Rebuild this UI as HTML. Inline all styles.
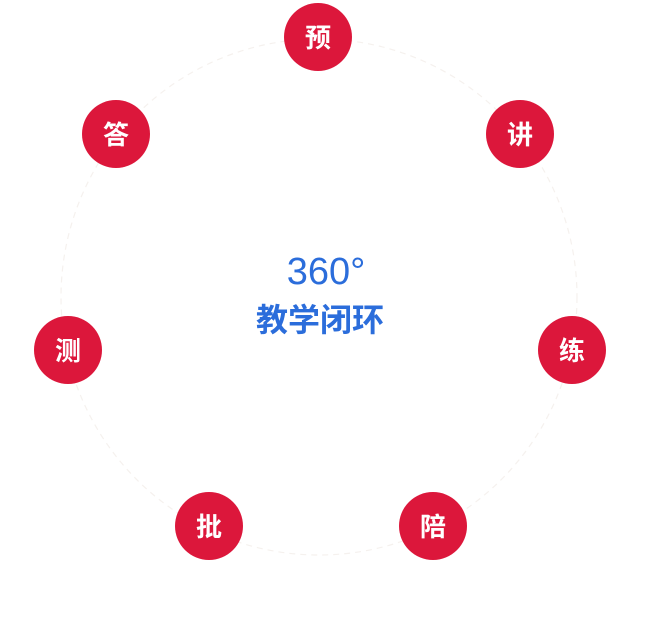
<!DOCTYPE html>
<html><head><meta charset="utf-8"><style>
body{margin:0;width:657px;height:619px;background:#fff;position:relative;overflow:hidden;font-family:"Liberation Sans","Noto Sans CJK SC",sans-serif}
.n{position:absolute;width:68px;height:68px;border-radius:50%;background:#dc173b;color:#fff;font-weight:bold;font-size:26px;line-height:68px;text-align:center;font-family:"Noto Sans CJK SC",sans-serif}
.t{position:absolute;left:0;width:640px;text-align:center;color:#2b6ddb}
</style></head><body>
<svg width="657" height="619" style="position:absolute;left:0;top:0"><circle cx="319" cy="297" r="258" fill="none" stroke="#f5f1ee" stroke-width="1.2" stroke-dasharray="6 5"/></svg>
<div class="n" style="left:284px;top:3px">预</div>
<div class="n" style="left:486px;top:100px">讲</div>
<div class="n" style="left:538px;top:316px">练</div>
<div class="n" style="left:399px;top:492px">陪</div>
<div class="n" style="left:175px;top:492px">批</div>
<div class="n" style="left:34px;top:316px">测</div>
<div class="n" style="left:82px;top:100px">答</div>
<div class="t" style="top:252px;left:6px;font-size:38px;line-height:40px">360°</div>
<div class="t" style="top:299px;font-size:32px;line-height:38px;font-weight:bold;font-family:'Noto Sans CJK SC',sans-serif">教学闭环</div>
</body></html>
